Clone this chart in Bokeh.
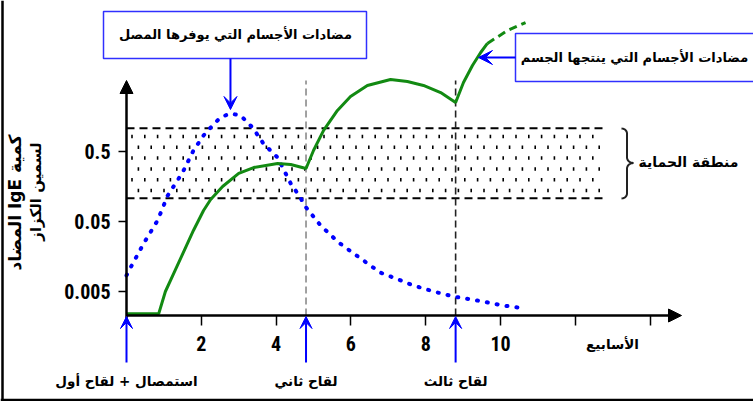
import numpy as np
from math import log10, pi
from bokeh.plotting import figure
from bokeh.models import Range1d, FixedTicker, Arrow, NormalHead, VeeHead
from bokeh.core.properties import value
from bokeh.embed import file_html
from bokeh.resources import INLINE

# ---------------- data ----------------
week_ticks = [2, 4, 6, 8, 10, 12, 14]
week_tick_labels = ["2", "4", "6", "8", "10", "", ""]
ige_ticks = [0.005, 0.05, 0.5]
ige_tick_labels = ["0.005", "0.05", "0.5"]

injection_weeks = [0.0, 4.8, 8.8]
injection_labels = ["استمصال + لقاح أول", "لقاح ثاني", "لقاح ثالث"]

protect_low = 0.107
protect_high = 1.07
protect_end_week = 12.8

# serum-provided antibodies (blue dotted)
serum_w = [0.0, 0.11, 0.46, 0.83, 1.10, 1.50, 1.79, 2.06, 2.25, 2.51, 2.78, 3.05,
           3.37, 3.66, 4.04, 4.39, 4.65, 4.76, 5.19, 5.67, 6.26, 6.79, 7.14, 7.67,
           8.21, 8.74, 9.39, 10.08, 10.67]
serum_v = [0.0085, 0.011, 0.0243, 0.0516, 0.117, 0.251, 0.516, 0.847, 1.10, 1.53,
           1.75, 1.63, 1.10, 0.650, 0.410, 0.175, 0.110, 0.0847, 0.0439, 0.0251,
           0.0148, 0.0093, 0.0079, 0.0061, 0.0050, 0.00424, 0.00371, 0.00315, 0.00285]

# body-produced antibodies (green solid)
body_w = [0.0, 0.86, 1.04, 1.26, 1.79, 2.06, 2.25, 2.57, 3.00, 3.40, 4.04, 4.39, 4.80,
          5.00, 5.27, 5.64, 5.99, 6.44, 7.06, 7.51, 7.94, 8.40, 8.80,
          9.01, 9.25, 9.47, 9.65]
body_v = [0.0024, 0.0024, 0.0050, 0.0090, 0.0372, 0.0718, 0.103, 0.158, 0.243, 0.295,
          0.337, 0.326, 0.286, 0.516, 1.0, 1.93, 3.06, 4.39, 5.35, 5.0, 4.39, 3.48, 2.51,
          4.84, 8.47, 12.98, 17.5]
# projected continuation (green dashed)
body_ext_w = [9.65, 10.19, 10.67]
body_ext_v = [17.5, 26.8, 34.8]

title_serum = "مضادات الأجسام التي يوفرها المصل"
title_body = "مضادات الأجسام التي ينتجها الجسم"
zone_label = "منطقة الحماية"
x_label = "الأسابيع"
y_label_1 = "\u202bكمية IgE المضاد\u202c"
y_label_2 = "لسمين الكزاز"

# ---------------- layout helpers (page pixel -> data) ----------------
W, H = 753, 401
PX0, PXW = 126.0, 37.4
Y05, PXD = 151.0, 70.0


def wx(px):
    return (np.asarray(px, dtype=float) - PX0) / PXW


def vy(py):
    return 10 ** (log10(0.5) - (np.asarray(py, dtype=float) - Y05) / PXD)


NUM_FONT = "'Liberation Sans Narrow', 'Roboto Condensed', 'DejaVu Sans Condensed', 'Liberation Sans', sans-serif"
AR_FONT = "'DejaVu Sans', sans-serif"
BLUE = "#0000ff"
GREEN = "#128a12"

p = figure(width=W, height=H,
           x_range=Range1d(float(wx(0)), float(wx(W))), y_range=Range1d(float(vy(H)), float(vy(0))),
           y_axis_type="log", output_backend="svg", toolbar_location=None,
           min_border=0)
p.outline_line_color = None
p.xgrid.visible = False
p.ygrid.visible = False

axis_v = float(vy(315))

xa = p.xaxis[0]
ya = p.yaxis[0]
xa.fixed_location = axis_v
ya.fixed_location = 0
xa.ticker = FixedTicker(ticks=week_ticks)
xa.major_label_overrides = dict(zip(week_ticks, week_tick_labels))
ya.ticker = FixedTicker(ticks=ige_ticks)
ya.major_label_overrides = dict(zip(ige_ticks, ige_tick_labels))
for ax, tick_out, standoff in ((xa, 10, 10), (ya, 8, 8)):
    ax.axis_line_color = None
    ax.major_tick_in = 0
    ax.major_tick_out = tick_out
    ax.major_tick_line_width = 1.5
    ax.major_tick_line_color = "black"
    ax.minor_tick_line_color = None
    ax.major_label_standoff = standoff
    ax.major_label_text_font = NUM_FONT
    ax.major_label_text_font_size = "20px"
    ax.major_label_text_font_style = "bold"
    ax.major_label_text_color = "black"

# image frame (left and bottom border)
p.segment(x0=[wx(2), wx(0)], y0=[vy(0), vy(399.5)], x1=[wx(2), wx(W)], y1=[vy(H), vy(399.5)],
          line_color="black", line_width=2.5)

# protection zone: dotted fill + dashed borders
rows = np.arange(136, 195, 10.8)
dx, dy = [], []
for i, ry in enumerate(rows):
    xs = np.arange(131.5 + (6.4 if i % 2 else 0), PX0 + protect_end_week * PXW, 12.8)
    dx.extend(wx(xs))
    dy.extend([float(vy(ry))] * len(xs))
p.scatter(dx, dy, marker="dash", angle=pi / 2, size=3.5, line_color="black", line_width=1.6)
p.segment(x0=[0, 0], y0=[protect_low, protect_high], x1=[protect_end_week] * 2,
          y1=[protect_low, protect_high], line_color="black", line_width=2, line_dash="8 5")

# booster dashed verticals
top_v = float(vy(80))
p.segment(x0=injection_weeks[1:], y0=[axis_v] * 2, x1=injection_weeks[1:], y1=[top_v] * 2,
          line_color=["#8a8a8a", "#222222"], line_width=1.6, line_dash="7 4")

# curves
p.line(serum_w, serum_v, line_color=BLUE, line_width=4, line_dash="1 9", line_cap="round")
p.line(body_w, body_v, line_color=GREEN, line_width=3)
p.line(body_ext_w, body_ext_v, line_color=GREEN, line_width=3, line_dash="8 5")

# axes arrows
p.add_layout(Arrow(end=NormalHead(size=13, fill_color="black", line_color="black"),
                   x_start=0, y_start=axis_v, x_end=float(wx(681)), y_end=axis_v,
                   line_color="black", line_width=2.5))
p.add_layout(Arrow(end=NormalHead(size=13, fill_color="black", line_color="black"),
                   x_start=0, y_start=float(vy(320)), x_end=0, y_end=float(vy(80)),
                   line_color="black", line_width=2.5))

# injection arrows + labels
for w in injection_weeks:
    p.add_layout(Arrow(end=VeeHead(size=12, fill_color=BLUE, line_color=BLUE),
                       x_start=w, y_start=float(vy(362)), x_end=w, y_end=float(vy(316)),
                       line_color=BLUE, line_width=2))
p.text(x=injection_weeks, y=[float(vy(380))] * 3, text=injection_labels,
       text_font=value(AR_FONT), text_font_style="bold", text_font_size="13.5px",
       text_align="center", text_baseline="middle", text_color="black")
p.text(x=[float(wx(612))], y=[float(vy(343))], text=[x_label], text_font=value(AR_FONT),
       text_font_style="bold", text_font_size="13.5px", text_align="center",
       text_baseline="middle", text_color="black")

# y label (two rotated lines)
p.text(x=[float(wx(14))], y=[float(vy(202))], text=[y_label_1],
       angle=pi / 2, text_font=value(AR_FONT), text_font_style="bold",
       text_font_size="17px", text_align="center", text_baseline="middle",
       text_color="black")
p.text(x=[float(wx(35))], y=[float(vy(191))], text=[y_label_2],
       angle=pi / 2, text_font=value(AR_FONT), text_font_style="bold",
       text_font_size="15px", text_align="center", text_baseline="middle",
       text_color="black")

# boxes
peak_i = int(np.argmax(serum_v))
peak_w = serum_w[peak_i]
p.quad(left=[wx(103), wx(515)], right=[wx(366), wx(790)],
       bottom=[vy(58), vy(81)], top=[vy(11), vy(33)],
       fill_color="white", line_color="#3030ff", line_width=1.5)
p.text(x=[float(wx(235)), float(wx(634))], y=[float(vy(34)), float(vy(57))],
       text=[title_serum, title_body],
       text_font=value(AR_FONT), text_font_style="bold", text_font_size="13px",
       text_align="center", text_baseline="middle", text_color="black")
p.add_layout(Arrow(end=VeeHead(size=13, fill_color=BLUE, line_color=BLUE),
                   x_start=peak_w, y_start=float(vy(58)), x_end=peak_w, y_end=float(vy(109)),
                   line_color=BLUE, line_width=2))
p.add_layout(Arrow(end=VeeHead(size=14, fill_color=BLUE, line_color=BLUE),
                   x_start=float(wx(515)), y_start=float(vy(57)), x_end=float(wx(478)),
                   y_end=float(vy(57)), line_color=BLUE, line_width=2))


# brace + zone label
def brace_points():
    pts = []
    xe, xs, xt = 621.0, 626.5, 633.0
    ytop, ymid, ybot = 128.0, 162.5, 198.0
    t = np.linspace(0, pi / 2, 8)
    pts += [(xe + (xs - xe) * np.sin(a), ytop + 5 * (1 - np.cos(a))) for a in t]
    pts += [(xs + (xt - xs) * (1 - np.cos(a)), ymid - 5.5 + 5.5 * np.sin(a)) for a in t]
    pts += [(xs + (xt - xs) * (1 - np.cos(a)), ymid + 5.5 - 5.5 * np.sin(a)) for a in t[::-1]]
    pts += [(xe + (xs - xe) * np.sin(a), ybot - 5 * (1 - np.cos(a))) for a in t[::-1]]
    return pts


bp = brace_points()
p.line([float(wx(a)) for a, b in bp], [float(vy(b)) for a, b in bp],
       line_color="#222222", line_width=2)
p.text(x=[float(wx(688))], y=[float(vy(161))], text=[zone_label], text_font=value(AR_FONT),
       text_font_style="bold", text_font_size="14px", text_align="center",
       text_baseline="middle", text_color="black")

open("out.html", "w").write(file_html(p, INLINE))
